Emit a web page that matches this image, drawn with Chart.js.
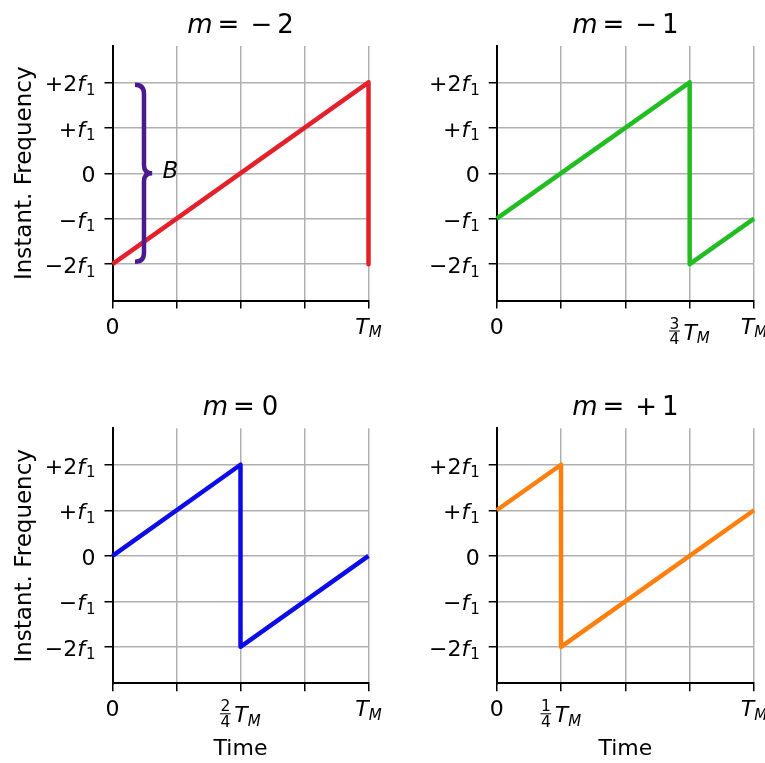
<!DOCTYPE html>
<html>
<head>
<meta charset="utf-8">
<script src="https://cdn.jsdelivr.net/npm/chart.js@4"></script>
<style>
  body { margin: 0; background: #fff; }
  #wrap { position: relative; width: 765px; height: 763px; }
  canvas { position: absolute; }
</style>
</head>
<body>
<div id="wrap">
  <canvas id="c0" width="383" height="383" style="left:0;top:0"></canvas>
  <canvas id="c1" width="382" height="383" style="left:383px;top:0"></canvas>
  <canvas id="c2" width="383" height="380" style="left:0;top:383px"></canvas>
  <canvas id="c3" width="382" height="380" style="left:383px;top:383px"></canvas>
</div>
<script>
// time in units of T_M, frequency in units of f1
const timeM2 = [0, 1, 1];
const freqM2 = [-2, 2, -2];
const timeM1 = [0, 0.75, 0.75, 1];
const freqM1 = [-1, 2, -2, -1];
const time0 = [0, 0.5, 0.5, 1];
const freq0 = [0, 2, -2, 0];
const timeP1 = [0, 0.25, 0.25, 1];
const freqP1 = [1, 2, -2, 1];

const xTicks = [0, 0.25, 0.5, 0.75, 1];
const yTicks = [-2, -1, 0, 1, 2];
const yTickLabels = ['−2f_1', '−f_1', '0', '+f_1', '+2f_1'];
const xLabelsM2 = ['0', '', '', '', 'T_M'];
const xLabelsM1 = ['0', '', '', '3/4 T_M', 'T_M'];
const xLabels0 = ['0', '', '2/4 T_M', '', 'T_M'];
const xLabelsP1 = ['0', '1/4 T_M', '', '', 'T_M'];
const titles = ['−2', '−1', '0', '+1'];

// bandwidth brace on the first panel (data units)
const braceX = [0.088, 0.123, 0.155];
const braceY = [1.95, -1.95];

const FONT = '"DejaVu Sans"';
function fnt(size, it) { return (it ? 'italic ' : '') + size + 'px ' + FONT; }

// draw a list of text runs, each {t, size, it, dy, gap}
function runsWidth(ctx, runs) {
  let w = 0;
  runs.forEach(r => { ctx.font = fnt(r.size, r.it); w += (r.gap || 0) + ctx.measureText(r.t).width; });
  return w;
}
function drawRuns(ctx, runs, x, y, align) {
  const w = runsWidth(ctx, runs);
  let cx = align === 'right' ? x - w : align === 'center' ? x - w / 2 : x;
  ctx.textAlign = 'left';
  ctx.textBaseline = 'alphabetic';
  runs.forEach(r => {
    ctx.font = fnt(r.size, r.it);
    cx += r.gap || 0;
    ctx.fillText(r.t, cx, y + (r.dy || 0));
    cx += ctx.measureText(r.t).width;
  });
}

function yRuns(lbl) {
  if (lbl.indexOf('f_1') < 0) return [{ t: lbl, size: 22 }];
  const pre = lbl.replace('f_1', '');
  return [{ t: pre, size: 22 }, { t: 'f', size: 22, it: true }, { t: '1', size: 15, dy: 3.5, gap: 1 }];
}
const tmRuns = [{ t: 'T', size: 22, it: true }, { t: 'M', size: 15, it: true, dy: 3.5, gap: 0 }];

function drawXLabel(ctx, lbl, cx, top) {
  if (!lbl) return;
  if (lbl === 'T_M') { drawRuns(ctx, tmRuns, cx, top + 16, 'center'); return; }
  if (lbl.indexOf('/') < 0) { drawRuns(ctx, [{ t: lbl, size: 22 }], cx, top + 16, 'center'); return; }
  const nd = lbl.split(' ')[0].split('/');
  ctx.font = fnt(15.5, false);
  const fw = Math.max(ctx.measureText(nd[0]).width, ctx.measureText(nd[1]).width);
  const tw = runsWidth(ctx, tmRuns);
  const total = fw + 4 + tw;
  const x0 = cx - total / 2;
  ctx.font = fnt(15.5, false);
  ctx.textAlign = 'center';
  ctx.textBaseline = 'alphabetic';
  ctx.fillText(nd[0], x0 + fw / 2, top + 11);
  ctx.fillText(nd[1], x0 + fw / 2, top + 26.5);
  ctx.fillRect(x0 - 0.5, top + 13, fw + 1, 1);
  drawRuns(ctx, tmRuns, x0 + fw + 4, top + 22, 'left');
}

function titleRuns(v) {
  const runs = [{ t: 'm', size: 26, it: true }, { t: '=', size: 26, gap: 5 }];
  if (v[0] === '−' || v[0] === '+') {
    runs.push({ t: v[0], size: 26, gap: 11 });
    runs.push({ t: v.slice(1), size: 26, gap: 5 });
  } else {
    runs.push({ t: v, size: 26, gap: 7 });
  }
  return runs;
}

function makeChart(id, xs, ys, color, o) {
  const cv = document.getElementById(id);
  const W = cv.width, H = cv.height;
  const a = o.area;

  const textPlugin = {
    id: 'panelText',
    afterDraw(chart) {
      const ctx = chart.ctx;
      const ca = chart.chartArea;
      const sx = chart.scales.x, sy = chart.scales.y;
      ctx.save();
      ctx.fillStyle = '#000';
      // title
      drawRuns(ctx, titleRuns(o.title), (ca.left + ca.right) / 2, ca.top - 13, 'center');
      // y tick labels
      yTicks.forEach((v, i) => {
        drawRuns(ctx, yRuns(yTickLabels[i]), ca.left - 17, sy.getPixelForValue(v) + 9, 'right');
      });
      // x tick labels
      xTicks.forEach((v, i) => {
        drawXLabel(ctx, o.xLabels[i], sx.getPixelForValue(v), ca.bottom + 17);
      });
      if (o.yTitle) {
        ctx.save();
        ctx.translate(31, (ca.top + ca.bottom) / 2);
        ctx.rotate(-Math.PI / 2);
        ctx.font = fnt(23, false);
        ctx.textAlign = 'center';
        ctx.fillText('Instant. Frequency', 0, 0);
        ctx.restore();
      }
      if (o.xTitle) {
        ctx.font = fnt(22, false);
        ctx.textAlign = 'center';
        ctx.fillText('Time', (ca.left + ca.right) / 2, ca.bottom + 72);
      }
      if (o.brace) {
        const xh = sx.getPixelForValue(braceX[0]);
        const xv = sx.getPixelForValue(braceX[1]);
        const xt = sx.getPixelForValue(braceX[2]);
        const yt = sy.getPixelForValue(braceY[0]);
        const yb = sy.getPixelForValue(braceY[1]);
        const ym = (yt + yb) / 2;
        ctx.strokeStyle = '#4b1a8c';
        ctx.lineWidth = 4.5;
        ctx.lineCap = 'butt';
        ctx.beginPath();
        ctx.moveTo(xh, yt);
        ctx.quadraticCurveTo(xv, yt, xv, yt + 9);
        ctx.lineTo(xv, ym - 8);
        ctx.quadraticCurveTo(xv, ym, xt, ym);
        ctx.quadraticCurveTo(xv, ym, xv, ym + 8);
        ctx.lineTo(xv, yb - 9);
        ctx.quadraticCurveTo(xv, yb, xh, yb);
        ctx.stroke();
        drawRuns(ctx, [{ t: 'B', size: 23, it: true }], sx.getPixelForValue(0.195), sy.getPixelForValue(-0.1), 'left');
      }
      ctx.restore();
    }
  };

  return new Chart(cv, {
    type: 'line',
    data: {
      datasets: [{
        data: xs.map((x, i) => ({ x: x, y: ys[i] })),
        borderColor: color,
        borderWidth: 4.5,
        pointRadius: 0,
        tension: 0,
        clip: false,
        borderCapStyle: 'butt',
        borderJoinStyle: 'round'
      }]
    },
    options: {
      responsive: false,
      animation: false,
      devicePixelRatio: 1,
      layout: { padding: { left: 0, top: a.top, right: W - a.right, bottom: 0 } },
      plugins: { legend: { display: false }, tooltip: { enabled: false }, title: { display: false } },
      scales: {
        x: {
          type: 'linear', min: 0, max: 1,
          afterBuildTicks: s => { s.ticks = xTicks.map(v => ({ value: v })); },
          afterFit: s => { s.height = H - a.bottom; },
          ticks: { display: false },
          grid: { color: '#b0b0b0', lineWidth: 1.5, tickColor: '#000', tickLength: 8, tickWidth: 1.5 },
          border: { color: '#000', width: 2 }
        },
        y: {
          type: 'linear', min: -2.8, max: 2.8,
          afterBuildTicks: s => { s.ticks = yTicks.map(v => ({ value: v })); },
          afterFit: s => { s.width = a.left; },
          ticks: { display: false },
          grid: { color: '#b0b0b0', lineWidth: 1.5, tickColor: '#000', tickLength: 8, tickWidth: 1.5 },
          border: { color: '#000', width: 2 }
        }
      }
    },
    plugins: [textPlugin]
  });
}

makeChart('c0', timeM2, freqM2, '#e4202a', {
  area: { left: 112.5, right: 368.5, top: 46, bottom: 300.5 },
  title: titles[0], xLabels: xLabelsM2, yTitle: true, brace: true
});
makeChart('c1', timeM1, freqM1, '#22bd22', {
  area: { left: 113.7, right: 371, top: 46, bottom: 300.5 },
  title: titles[1], xLabels: xLabelsM1
});
makeChart('c2', time0, freq0, '#0c0ce8', {
  area: { left: 112.5, right: 368.5, top: 45.3, bottom: 300.3 },
  title: titles[2], xLabels: xLabels0, yTitle: true, xTitle: true
});
makeChart('c3', timeP1, freqP1, '#ff7f0e', {
  area: { left: 113.7, right: 371, top: 45.3, bottom: 300.3 },
  title: titles[3], xLabels: xLabelsP1, xTitle: true
});
</script>
</body>
</html>
